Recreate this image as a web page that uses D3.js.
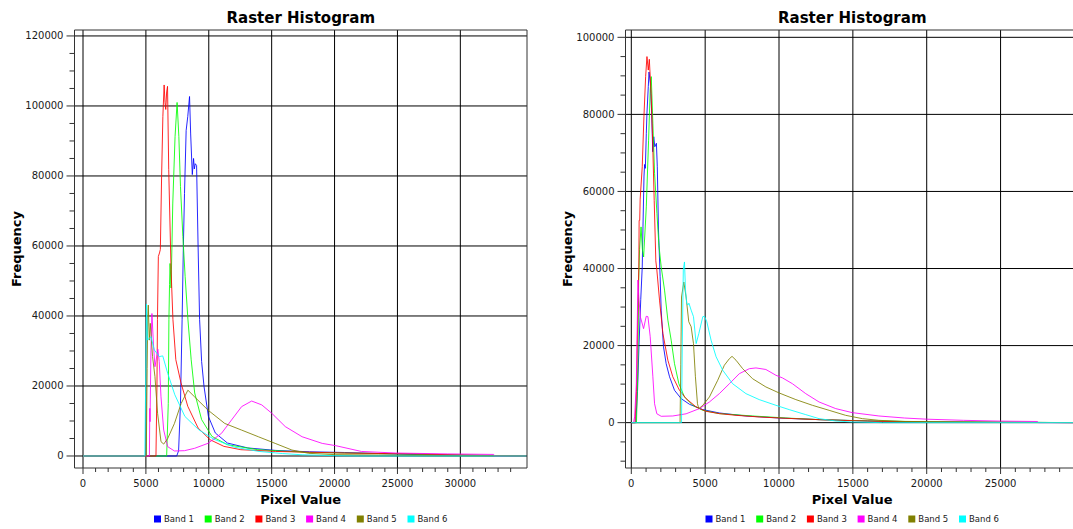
<!DOCTYPE html>
<html>
<head>
<meta charset="utf-8">
<script src="https://cdn.jsdelivr.net/npm/d3@7/dist/d3.min.js"></script>
<style>
  body { margin: 0; background: #fff; }
  svg { display: block; font-family: "DejaVu Sans", Verdana, sans-serif; }
</style>
</head>
<body>
<svg id="chart" width="1073" height="529"></svg>
<script>
const bandNames = ["Band 1", "Band 2", "Band 3", "Band 4", "Band 5", "Band 6"];
const bandColors = ["#0000ff", "#00ff00", "#ff0000", "#ff00ff", "#808000", "#00ffff"];

// left histogram, [pixel value, frequency]
const leftBand1 = [[0,0],[7450,0],[7600,1500],[7750,15000],[7880,39000],[7980,60000],[8070,75000],[8200,93000],[8330,97000],[8470,102700],[8560,92000],[8690,80400],[8790,85000],[8850,82000],[8925,83500],[9030,83000],[9150,60000],[9270,39000],[9430,27000],[9620,19900],[9970,11300],[10520,6570],[11480,3700],[13100,2300],[15300,1600],[18000,1200],[20800,1000],[23500,700],[26000,450],[30000,200],[35300,0]];
const leftBand2 = [[0,0],[6650,0],[6780,15000],[6830,39000],[6880,49000],[6920,55000],[6960,52000],[7000,48000],[7060,58000],[7136,72000],[7320,91300],[7480,101000],[7620,91300],[7750,77000],[7940,62700],[8120,51300],[8340,39100],[8600,27500],[8880,18000],[9430,10400],[10250,5600],[11480,3230],[13900,1800],[18000,1000],[23500,700],[28000,400],[35300,0]];
const leftBand3 = [[0,0],[5800,0],[5880,20000],[5920,39000],[5990,57000],[6080,58000],[6150,59000],[6250,80000],[6350,97000],[6450,106000],[6520,101000],[6580,99000],[6650,104000],[6720,105600],[6815,81800],[7000,53200],[7150,39000],[7380,27500],[7790,20900],[8330,14200],[9150,8000],[10100,4660],[11200,2750],[12550,1800],[15300,1300],[20770,850],[26300,600],[30000,300],[35300,0]];
const leftBand4 = [[0,0],[5280,0],[5310,13600],[5330,9800],[5400,30000],[5480,40700],[5600,32000],[5720,25500],[5880,28800],[5950,30500],[6060,27000],[6200,16900],[6415,7400],[6735,2660],[7270,1430],[8070,1520],[8870,2190],[9940,3620],[11010,6470],[11810,10300],[12610,14100],[13410,15700],[14210,14600],[15010,12200],[16080,8400],[17420,5500],[19020,3600],[20090,2950],[22130,1300],[24860,850],[28960,600],[32650,450],[32700,0],[35300,0]];
const leftBand5 = [[0,0],[5030,0],[5100,25000],[5150,40000],[5190,43100],[5270,33100],[5350,37900],[5530,28400],[5720,22700],[5930,12200],[6200,4100],[6415,3400],[6735,5000],[7270,9300],[7800,15000],[8340,18800],[8870,16900],[9940,13100],[11270,9300],[12610,7400],[13940,5500],[15280,3600],[16610,1700],[17950,760],[20090,380],[23500,280],[27000,100],[35300,0]];
const leftBand6 = [[0,0],[4920,0],[4980,20000],[5050,43400],[5130,33100],[5400,34100],[5670,30300],[6070,28400],[6340,28600],[6735,23600],[7300,17500],[8100,11300],[9200,7500],[10400,4800],[12050,2500],[14000,1300],[15850,700],[17420,350],[20000,100],[22000,0],[35300,0]];

// right histogram, [pixel value, frequency]
const rightBand1 = [[0,0],[300,0],[420,8000],[520,20000],[640,32000],[740,40400],[790,50800],[860,64000],[900,67000],[950,66000],[1015,75000],[1060,80300],[1150,87200],[1200,91000],[1290,88000],[1380,80300],[1450,70300],[1520,74200],[1590,71600],[1700,72500],[1760,66400],[1840,50000],[1950,38000],[2025,29000],[2180,19700],[2360,15300],[2590,11900],[2925,8400],[3375,6240],[3940,4760],[4840,3380],[5960,2510],[7760,1730],[10010,1210],[12710,780],[16000,430],[20000,200],[25000,80],[31000,0]];
const rightBand2 = [[0,0],[350,0],[450,15000],[500,37000],[560,45000],[660,50800],[750,45000],[835,43000],[1015,56000],[1170,73300],[1280,86300],[1350,89800],[1460,77700],[1575,64700],[1735,54300],[1870,46000],[2025,40400],[2250,34400],[2475,26600],[2700,21400],[2925,15300],[3220,10100],[3600,6670],[4160,4500],[4840,3200],[5960,2340],[8210,1730],[10460,1210],[12710,780],[16000,450],[20000,250],[25000,100],[31000,0]];
const rightBand3 = [[0,0],[250,0],[350,8000],[450,30000],[510,40400],[530,52500],[570,52500],[600,58000],[740,66400],[855,79400],[970,89800],[1060,95000],[1150,91500],[1220,94300],[1340,85400],[1430,75000],[1550,57700],[1660,42000],[1730,39600],[1910,31800],[2140,23100],[2475,16200],[2810,11900],[3260,8400],[3710,6240],[4390,4070],[5060,2940],[5960,2340],[7090,1900],[8660,1470],[10460,1130],[12710,780],[14960,520],[16760,350],[20000,150],[31000,0]];
const rightBand4 = [[0,0],[150,0],[225,1500],[340,10100],[400,25000],[450,37000],[500,33000],[610,27500],[830,24400],[1010,27600],[1125,27500],[1280,22300],[1460,11900],[1575,4900],[1730,2300],[2025,1650],[2810,1730],[3710,2300],[4610,3640],[5290,5370],[5960,7530],[6640,10100],[7310,12700],[7990,14000],[8440,14200],[9110,13800],[9790,12300],[10240,11600],[10910,10100],[11810,7530],[12710,5370],[13840,3640],[14960,2600],[16760,1730],[18500,1200],[20000,900],[22500,600],[25000,400],[27500,300],[27550,0],[31000,0]];
const rightBand5 = [[0,0],[3300,0],[3350,15000],[3400,32600],[3555,36500],[3710,32600],[3890,26200],[4050,24900],[4210,20500],[4340,11900],[4480,4900],[4570,3640],[4840,4500],[5290,6670],[5850,11000],[6300,14900],[6640,16600],[6820,17200],[7090,16200],[7540,14000],[8210,11400],[9110,9270],[10010,7700],[11140,5980],[12260,4500],[13390,3200],[14510,1900],[15640,1040],[16760,600],[18500,300],[20000,150],[31000,0]];
const rightBand6 = [[0,0],[3400,0],[3450,20000],[3520,39600],[3600,41700],[3670,34400],[3750,31000],[3825,30500],[3900,31000],[4050,29200],[4210,27500],[4390,20500],[4570,23100],[4840,27500],[4950,27600],[5110,26200],[5400,21400],[5740,17100],[6190,13600],[6860,10100],[7760,7530],[8660,5980],[9790,4500],[10690,3380],[11810,2080],[12710,1040],[13840,430],[15000,170],[17000,0],[31000,0]];

const leftXTicks = [0, 5000, 10000, 15000, 20000, 25000, 30000, 35000];
const leftYTicks = [0, 20000, 40000, 60000, 80000, 100000, 120000];
const rightXTicks = [0, 5000, 10000, 15000, 20000, 25000, 30000];
const rightYTicks = [0, 20000, 40000, 60000, 80000, 100000];

const svg = d3.select("#chart");

function histogramChart(opts) {
  const {id, left, right, top, bottom, xDomain, yDomain, xTicks, yTicks, bands} = opts;
  const x = d3.scaleLinear().domain(xDomain).range([left, right]);
  const y = d3.scaleLinear().domain(yDomain).range([bottom, top]);
  const cx = (left + right) / 2;
  const g = svg.append("g");

  // only ticks that fit inside the frame
  const inX = v => x(v) >= left && x(v) <= right - 6;
  const inY = v => y(v) >= top && y(v) <= bottom;

  g.append("clipPath").attr("id", "clip-" + id)
    .append("rect")
      .attr("x", left).attr("y", top)
      .attr("width", right - left).attr("height", bottom - top);

  // gridlines
  g.append("g").selectAll("line")
    .data(xTicks.filter(inX))
    .join("line")
      .attr("x1", d => x(d)).attr("x2", d => x(d))
      .attr("y1", top).attr("y2", bottom)
      .attr("stroke", "#000");
  g.append("g").selectAll("line")
    .data(yTicks.filter(inY))
    .join("line")
      .attr("x1", left).attr("x2", right)
      .attr("y1", d => y(d)).attr("y2", d => y(d))
      .attr("stroke", "#000");

  // histogram lines
  const line = d3.line().x(d => x(d[0])).y(d => y(d[1]));
  g.append("g")
      .attr("clip-path", `url(#clip-${id})`)
    .selectAll("path")
    .data(bands)
    .join("path")
      .attr("fill", "none")
      .attr("stroke", (d, i) => bandColors[i])
      .attr("stroke-width", 1)
      .attr("stroke-opacity", 0.85)
      .attr("d", line);

  // frame
  g.append("path")
    .attr("d", `M${left},${top}H${right}V${bottom}H${left}Z`)
    .attr("fill", "none")
    .attr("stroke", "#333");

  // y ticks: major every 20000, minor every 5000
  const yMinor = d3.range(Math.ceil(yDomain[0] / 5000) * 5000, yDomain[1], 5000).filter(inY);
  g.append("g").selectAll("line")
    .data(yMinor)
    .join("line")
      .attr("x1", d => yTicks.includes(d) ? left - 8 : left - 5).attr("x2", left)
      .attr("y1", d => y(d)).attr("y2", d => y(d))
      .attr("stroke", "#333");
  g.append("g").selectAll("text")
    .data(yTicks.filter(inY))
    .join("text")
      .attr("x", left - 11)
      .attr("y", d => y(d))
      .attr("dy", "0.35em")
      .attr("text-anchor", "end")
      .attr("font-size", 10)
      .attr("fill", "#1a1a1a")
      .text(d => d);

  // x ticks: major every 5000, minor every 1000
  const xMinor = d3.range(Math.ceil(xDomain[0] / 1000) * 1000, xDomain[1], 1000).filter(inX);
  g.append("g").selectAll("line")
    .data(xMinor)
    .join("line")
      .attr("x1", d => x(d)).attr("x2", d => x(d))
      .attr("y1", bottom).attr("y2", d => xTicks.includes(d) ? bottom + 6 : bottom + 4)
      .attr("stroke", "#333");
  g.append("g").selectAll("text")
    .data(xTicks.filter(inX))
    .join("text")
      .attr("x", d => x(d))
      .attr("y", bottom + 19)
      .attr("text-anchor", "middle")
      .attr("font-size", 10)
      .attr("fill", "#1a1a1a")
      .text(d => d);

  // titles
  g.append("text")
    .attr("x", cx).attr("y", 22.5)
    .attr("text-anchor", "middle")
    .attr("font-size", 15).attr("font-weight", "bold")
    .text("Raster Histogram");
  g.append("text")
    .attr("x", cx).attr("y", bottom + 36)
    .attr("text-anchor", "middle")
    .attr("font-size", 13).attr("font-weight", "bold")
    .text("Pixel Value");
  g.append("text")
    .attr("transform", `translate(${left - 58},${(top + bottom) / 2}) rotate(-90)`)
    .attr("dy", "0.35em")
    .attr("text-anchor", "middle")
    .attr("font-size", 13).attr("font-weight", "bold")
    .text("Frequency");

  // legend
  const step = 50.7;
  const legendWidth = step * (bandNames.length - 1) + 40;
  const legend = g.append("g")
      .attr("transform", `translate(${cx - legendWidth / 2},519)`)
    .selectAll("g")
    .data(bandNames)
    .join("g")
      .attr("transform", (d, i) => `translate(${i * step},0)`);
  legend.append("rect")
    .attr("x", 0).attr("y", -3.5)
    .attr("width", 7).attr("height", 7)
    .attr("fill", (d, i) => bandColors[i]);
  legend.append("text")
    .attr("x", 10).attr("dy", "0.35em")
    .attr("font-size", 8.5)
    .attr("fill", "#1a1a1a")
    .text(d => d);
}

histogramChart({
  id: "left", left: 74.5, right: 527, top: 30, bottom: 468,
  xDomain: [-676, 35300], yDomain: [-3430, 121700],
  xTicks: leftXTicks, yTicks: leftYTicks,
  bands: [leftBand1, leftBand2, leftBand3, leftBand4, leftBand5, leftBand6]
});

histogramChart({
  id: "right", left: 625.5, right: 1079, top: 30, bottom: 468,
  xDomain: [-393, 30310], yDomain: [-11770, 101900],
  xTicks: rightXTicks, yTicks: rightYTicks,
  bands: [rightBand1, rightBand2, rightBand3, rightBand4, rightBand5, rightBand6]
});
</script>
</body>
</html>
